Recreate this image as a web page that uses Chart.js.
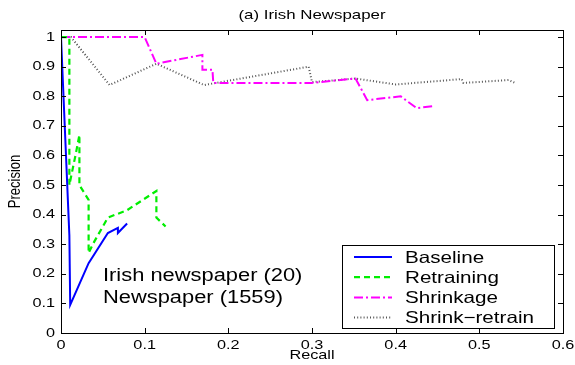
<!DOCTYPE html>
<html>
<head>
<meta charset="utf-8">
<script src="https://cdn.jsdelivr.net/npm/chart.js@4"></script>
<style>
  html, body { margin: 0; padding: 0; background: #fff; }
  #wrap { width: 575px; height: 365px; }
</style>
</head>
<body>
<div id="wrap"><canvas id="prChart" width="575" height="365"></canvas></div>
<script>
// recall / precision pairs
const baselineRecall = [0, 0.010, 0.011, 0.033, 0.056, 0.068, 0.068, 0.079];
const baselinePrec   = [1, 0.33, 0.095, 0.236, 0.338, 0.355, 0.338, 0.37];

const retrainRecall = [0, 0.010, 0.010, 0.018, 0.022, 0.022, 0.033, 0.033, 0.038, 0.056, 0.079, 0.114, 0.114, 0.125];
const retrainPrec   = [1, 1, 0.50, 0.61, 0.67, 0.50, 0.45, 0.27, 0.30, 0.39, 0.415, 0.48, 0.39, 0.36];

const shrinkRecall = [0, 0.100, 0.114, 0.169, 0.169, 0.181, 0.182, 0.299, 0.352, 0.366, 0.406, 0.425, 0.445];
const shrinkPrec   = [1, 1, 0.91, 0.94, 0.89, 0.89, 0.845, 0.845, 0.86, 0.787, 0.80, 0.76, 0.767];

const shrinkRetrainRecall = [0, 0.012, 0.058, 0.114, 0.171, 0.296, 0.300, 0.352, 0.400, 0.479, 0.481, 0.535, 0.543];
const shrinkRetrainPrec   = [1, 1, 0.838, 0.91, 0.838, 0.90, 0.848, 0.86, 0.84, 0.858, 0.845, 0.855, 0.845];

const xTicks = [0, 0.1, 0.2, 0.3, 0.4, 0.5, 0.6];
const xTickLabels = ["0", "0.1", "0.2", "0.3", "0.4", "0.5", "0.6"];
const yTicks = [0, 0.1, 0.2, 0.3, 0.4, 0.5, 0.6, 0.7, 0.8, 0.9, 1];
const yTickLabels = ["0", "0.1", "0.2", "0.3", "0.4", "0.5", "0.6", "0.7", "0.8", "0.9", "1"];

const seriesNames = ["Baseline", "Retraining", "Shrinkage", "Shrink\u2212retrain"];
const noteLines = ["Irish newspaper (20)", "Newspaper (1559)"];
const chartTitle = "(a) Irish Newspaper";
const xTitle = "Recall";
const yTitle = "Precision";

const FONT = "'Liberation Sans', Arial, sans-serif";
const SX = 1.25; // the original figure text is a bit wide

function pairs(xs, ys) {
  return xs.map((x, i) => ({ x: x, y: ys[i] }));
}

// wide text, like the exported matlab figure
function wideText(ctx, text, x, y, size, align) {
  ctx.save();
  ctx.translate(x, y);
  ctx.scale(SX, 1);
  ctx.font = size + "px " + FONT;
  ctx.textAlign = align;
  ctx.textBaseline = "middle";
  ctx.fillStyle = "#000";
  ctx.fillText(text, 0, 0);
  ctx.restore();
}

const styles = [
  { color: "#0000ff", dash: [], width: 2 },
  { color: "#00ee00", dash: [6, 4], width: 2.2 },
  { color: "#ff00ff", dash: [9, 3, 2, 3], width: 2 },
  { color: "#555555", dash: [1, 2.2], width: 2 },
];

const seriesData = [
  pairs(baselineRecall, baselinePrec),
  pairs(retrainRecall, retrainPrec),
  pairs(shrinkRecall, shrinkPrec),
  pairs(shrinkRetrainRecall, shrinkRetrainPrec),
];

// box, inside ticks on four sides, labels, legend and note
const matlabAxes = {
  id: "matlabAxes",
  afterDatasetsDraw(chart) {
    const { ctx, chartArea: a, scales } = chart;
    ctx.save();
    ctx.strokeStyle = "#000";
    ctx.lineWidth = 1;
    ctx.setLineDash([]);
    ctx.strokeRect(a.left + 0.5, a.top + 0.5, a.right - a.left, a.bottom - a.top);
    const len = 5;
    ctx.beginPath();
    xTicks.forEach(v => {
      const px = Math.round(scales.x.getPixelForValue(v)) + 0.5;
      ctx.moveTo(px, a.bottom); ctx.lineTo(px, a.bottom - len);
      ctx.moveTo(px, a.top); ctx.lineTo(px, a.top + len);
    });
    yTicks.forEach(v => {
      const py = Math.round(scales.y.getPixelForValue(v)) + 0.5;
      ctx.moveTo(a.left, py); ctx.lineTo(a.left + len, py);
      ctx.moveTo(a.right, py); ctx.lineTo(a.right - len, py);
    });
    ctx.stroke();

    // tick labels
    xTicks.forEach((v, i) => {
      wideText(ctx, xTickLabels[i], scales.x.getPixelForValue(v), a.bottom + 12, 13, "center");
    });
    yTicks.forEach((v, i) => {
      wideText(ctx, yTickLabels[i], a.left - 6, scales.y.getPixelForValue(v), 13, "right");
    });

    // axis titles and title
    wideText(ctx, xTitle, (a.left + a.right) / 2, 355, 13, "center");
    ctx.save();
    ctx.translate(16, (a.top + a.bottom) / 2);
    ctx.rotate(-Math.PI / 2);
    ctx.scale(1, SX);
    ctx.font = "13px " + FONT;
    ctx.textAlign = "center";
    ctx.textBaseline = "middle";
    ctx.fillStyle = "#000";
    ctx.fillText(yTitle, 0, 0);
    ctx.restore();
    wideText(ctx, chartTitle, 312, 15, 13.5, "center");

    // note text
    wideText(ctx, noteLines[0], 103, 276, 17.5, "left");
    wideText(ctx, noteLines[1], 103, 298, 17.5, "left");

    // legend
    const lx = 342, ly = 245, lw = 212, lh = 83;
    ctx.fillStyle = "#fff";
    ctx.fillRect(lx, ly, lw, lh);
    ctx.strokeStyle = "#000";
    ctx.lineWidth = 1;
    ctx.strokeRect(lx + 0.5, ly + 0.5, lw, lh);
    seriesNames.forEach((name, i) => {
      const y = 257 + i * 20.2;
      const s = styles[i];
      ctx.strokeStyle = s.color;
      ctx.lineWidth = s.width;
      ctx.setLineDash(s.dash);
      ctx.beginPath();
      ctx.moveTo(354, y); ctx.lineTo(392, y);
      ctx.stroke();
      ctx.setLineDash([]);
      wideText(ctx, name, 405, y + 1, 16.5, "left");
    });
    ctx.restore();
  }
};

new Chart(document.getElementById("prChart"), {
  type: "scatter",
  data: {
    datasets: seriesData.map((d, i) => ({
      label: seriesNames[i],
      data: d,
      showLine: true,
      borderColor: styles[i].color,
      borderWidth: styles[i].width,
      borderDash: styles[i].dash,
      pointRadius: 0,
      fill: false,
      tension: 0,
    })),
  },
  options: {
    responsive: false,
    animation: false,
    layout: { padding: { left: 61, right: 12, top: 30, bottom: 32 } },
    plugins: {
      legend: { display: false },
      tooltip: { enabled: false },
    },
    scales: {
      x: {
        type: "linear",
        min: 0,
        max: 0.6,
        grid: { display: false, drawTicks: false },
        border: { display: false },
        ticks: { display: false },
      },
      y: {
        type: "linear",
        min: 0,
        max: 1.024,
        grid: { display: false, drawTicks: false },
        border: { display: false },
        ticks: { display: false },
      },
    },
  },
  plugins: [matlabAxes],
});
</script>
</body>
</html>
